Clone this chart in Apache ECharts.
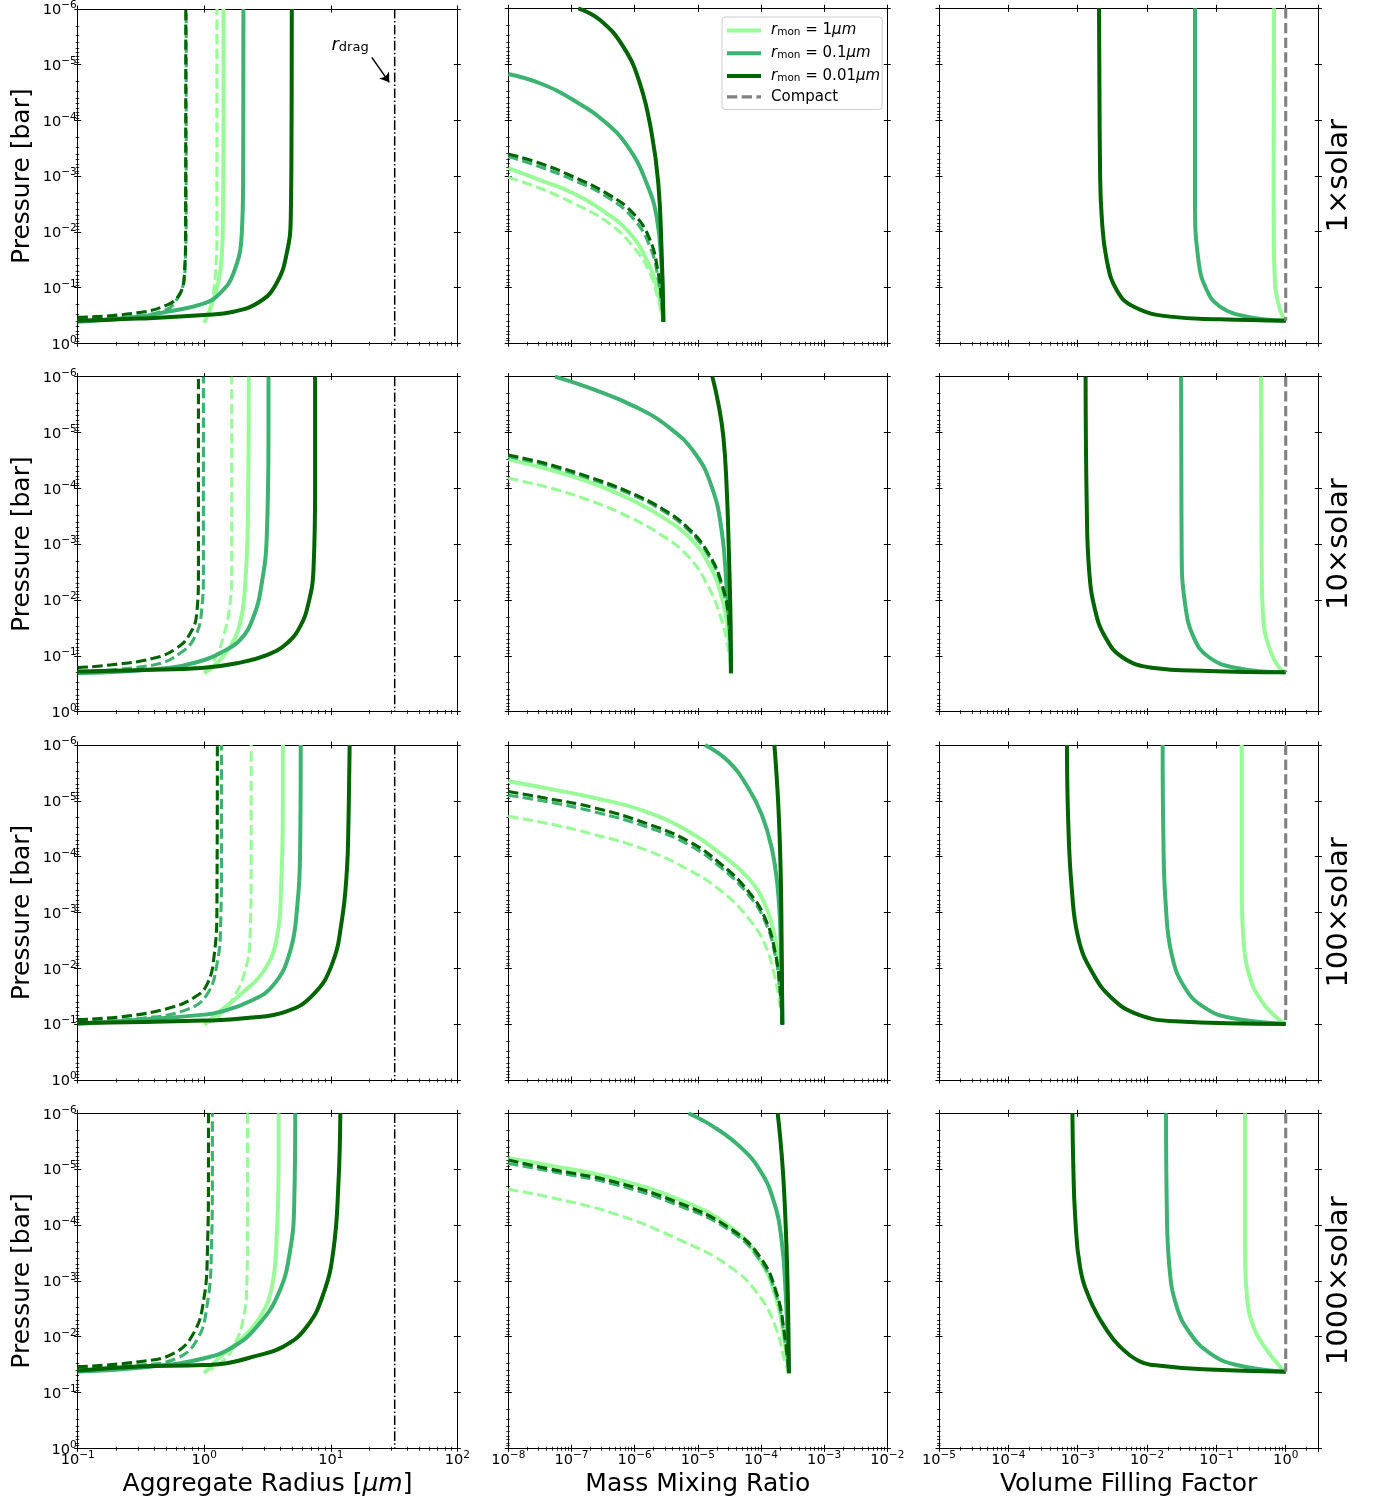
<!DOCTYPE html>
<html>
<head>
<meta charset="utf-8">
<script src="https://cdn.jsdelivr.net/npm/echarts@6/dist/echarts.min.js"></script>
<style>html,body{margin:0;padding:0;background:#fff;}#chart{width:1382px;height:1506px;}</style>
</head>
<body>
<div id="chart"></div>
<script>
// ---------------- labels ----------------
const rowNames = ['1×solar', '10×solar', '100×solar', '1000×solar'];
const xNames = ['{n|Aggregate Radius [}{i|μm}{n|]}', '{n|Mass Mixing Ratio}', '{n|Volume Filling Factor}'];
const yName = 'Pressure [bar]';
const legendNames = ['r1', 'r01', 'r001', 'compact'];
const legendLabels = {
  r1: '{i|r}{sub|mon}{n| = 1}{i|μm}',
  r01: '{i|r}{sub|mon}{n| = 0.1}{i|μm}',
  r001: '{i|r}{sub|mon}{n| = 0.01}{i|μm}',
  compact: '{n|Compact}'
};
// axis ranges
const radiusRange = [0.1, 100];
const mmrRange = [1e-8, 1e-2];
const vffRange = [1e-5, 2.95];
const pressureRange = [1e-6, 1];

// r_drag marker
const rdragLine = [[32, 1e-6], [32, 1]];
const rdragArrow = [[21.1, 7.4e-6], [29.0, 2.07e-5]];
const rdragLabelAt = [14.2, 4.4e-6];

// ---------------- 1x solar ----------------
const rad_s1_r1 = [[1.0,0.43],[1.18,0.168],[1.33,0.056],[1.40,0.0107],[1.42,1e-4],[1.42,1e-6]];
const rad_s1_r01 = [[0.1,0.41],[0.3,0.335],[0.505,0.272],[1.0,0.192],[1.33,0.127],[1.70,0.056],[1.98,0.0107],[2.03,1e-3],[2.04,1e-6]];
const rad_s1_r001 = [[0.1,0.394],[0.3,0.36],[1.0,0.311],[1.7,0.272],[2.76,0.178],[3.74,0.083],[4.49,0.0241],[4.83,0.0054],[4.9,1e-4],[4.92,1e-6]];
const rad_s1_c1 = [[1.0,0.42],[1.15,0.17],[1.23,0.05],[1.26,0.01],[1.26,1e-6]];
const rad_s1_c01 = [[0.1,0.375],[0.28,0.33],[0.5,0.25],[0.6,0.17],[0.68,0.09],[0.71,0.03],[0.72,0.005],[0.72,1e-6]];
const rad_s1_c001 = [[0.1,0.343],[0.275,0.29],[0.505,0.206],[0.644,0.127],[0.697,0.056],[0.712,0.01],[0.715,1e-6]];

const mmr_s1_r1 = [[1e-8,7.3e-4],[3.17e-8,1.19e-3],[1.07e-7,2.06e-3],[3.6e-7,4.7e-3],[8.4e-7,0.0107],[1.55e-6,0.032],[2.23e-6,0.0966],[2.85e-6,0.41]];
const mmr_s1_r01 = [[1e-8,1.5e-5],[3.17e-8,2.2e-5],[1.07e-7,4.4e-5],[3.6e-7,1.15e-4],[8.4e-7,3.4e-4],[1.55e-6,1.36e-3],[2.23e-6,5.4e-3],[2.67e-6,0.0424],[2.85e-6,0.41]];
const mmr_s1_r001 = [[1.28e-7,1e-6],[2.83e-7,1.62e-6],[6.6e-7,4.86e-6],[1.21e-6,2.2e-5],[1.86e-6,1.73e-4],[2.37e-6,1.36e-3],[2.67e-6,0.0213],[2.85e-6,0.41]];
const mmr_s1_c1 = [[1e-8,1.06e-3],[3.17e-8,1.67e-3],[1.07e-7,3.1e-3],[3.6e-7,6.6e-3],[9.5e-7,0.0186],[1.75e-6,0.0557],[2.37e-6,0.167],[2.85e-6,0.41]];
const mmr_s1_c01 = [[1e-8,4.5e-4],[3.17e-8,6.9e-4],[1.07e-7,1.19e-3],[3.6e-7,2.36e-3],[9.5e-7,5.8e-3],[1.75e-6,0.0186],[2.37e-6,0.073],[2.85e-6,0.41]];
const mmr_s1_c001 = [[1e-8,4.06e-4],[3.17e-8,5.97e-4],[1.07e-7,1.04e-3],[3.6e-7,2.06e-3],[9.5e-7,4.7e-3],[1.75e-6,0.014],[2.37e-6,0.0557],[2.67e-6,0.167],[2.85e-6,0.41]];

const vff_s1_r1 = [[0.68,1e-6],[0.67,1e-3],[0.672,0.0107],[0.702,0.084],[0.83,0.253],[1,0.393]];
const vff_s1_r01 = [[0.0492,1e-6],[0.0492,2.7e-3],[0.055,0.032],[0.0726,0.111],[0.113,0.22],[0.274,0.333],[1,0.393]];
const vff_s1_r001 = [[2.03e-3,1e-6],[2.1e-3,6.9e-4],[2.22e-3,5.4e-3],[2.62e-3,0.032],[3.65e-3,0.111],[6.35e-3,0.22],[0.0215,0.333],[0.113,0.372],[1,0.393]];
const vff_s1_compact = [[1,1e-6],[1,0.393]];

// ---------------- 10x solar ----------------
const rad_s10_r1 = [[1.0,0.206],[1.26,0.136],[1.60,0.069],[1.92,0.026],[2.10,0.0058],[2.21,3.7e-4],[2.25,1e-6]];
const rad_s10_r01 = [[0.1,0.206],[0.537,0.163],[1.0,0.119],[1.33,0.09],[1.92,0.052],[2.45,0.02],[2.85,0.005],[3.12,7.3e-4],[3.22,1e-5],[3.22,1e-6]];
const rad_s10_r001 = [[0.1,0.192],[0.33,0.18],[1.0,0.163],[1.81,0.136],[3.12,0.097],[4.49,0.060],[5.72,0.030],[6.66,0.0115],[7.3,0.0029],[7.52,1e-4],[7.52,1e-6]];
const rad_s10_c1 = [[1.0,0.2],[1.2,0.12],[1.42,0.045],[1.6,0.0115],[1.65,0.003],[1.65,1e-6]];
const rad_s10_c01 = [[0.1,0.192],[0.396,0.146],[0.644,0.09],[0.847,0.045],[0.955,0.015],[0.985,0.003],[0.985,1e-6]];
const rad_s10_c001 = [[0.1,0.163],[0.18,0.146],[0.396,0.111],[0.605,0.073],[0.773,0.04],[0.873,0.0173],[0.90,0.003],[0.90,1e-6]];

const mmr_s10_r1 = [[1e-8,3.03e-5],[3.8e-8,4.4e-5],[1.85e-7,7.6e-5],[7.9e-7,1.51e-4],[2.67e-6,3.21e-4],[7.1e-6,7.3e-4],[1.47e-5,2.2e-3],[2.38e-5,8.7e-3],[3.1e-5,0.0454],[3.35e-5,0.206]];
const mmr_s10_r01 = [[5.48e-8,1e-6],[2.35e-7,1.73e-6],[1.01e-6,3.44e-6],[3.41e-6,7.9e-6],[9.0e-6,2.36e-5],[1.66e-5,9.3e-5],[2.38e-5,5.6e-4],[2.86e-5,5.8e-3],[3.23e-5,0.0454],[3.35e-5,0.206]];
const mmr_s10_r001 = [[1.7e-5,1e-6],[2.11e-5,3.0e-6],[2.54e-5,1.19e-5],[2.86e-5,9.3e-5],[3.11e-5,1.46e-3],[3.3e-5,0.0228],[3.35e-5,0.206]];
const mmr_s10_c1 = [[1e-8,6.6e-5],[3.8e-8,9.3e-5],[1.85e-7,1.62e-4],[7.9e-7,3.2e-4],[2.67e-6,6.9e-4],[7.1e-6,1.67e-3],[1.47e-5,5.8e-3],[2.38e-5,0.0228],[3.1e-5,0.09],[3.35e-5,0.206]];
const mmr_s10_c01 = [[1e-8,2.7e-5],[3.8e-8,3.8e-5],[1.85e-7,6.6e-5],[7.9e-7,1.22e-4],[2.67e-6,2.45e-4],[7.1e-6,5.6e-4],[1.47e-5,1.6e-3],[2.38e-5,5.5e-3],[3.1e-5,0.025],[3.35e-5,0.206]];
const mmr_s10_c001 = [[1e-8,2.53e-5],[3.8e-8,3.57e-5],[1.85e-7,6.2e-5],[7.9e-7,1.15e-4],[2.67e-6,2.28e-4],[7.1e-6,5.2e-4],[1.47e-5,1.46e-3],[2.38e-5,5e-3],[3.1e-5,0.0228],[3.35e-5,0.206]];

const vff_s10_r1 = [[0.44,1e-6],[0.451,2.9e-3],[0.476,0.0228],[0.594,0.0787],[0.783,0.156],[1,0.198]];
const vff_s10_r01 = [[0.031,1e-6],[0.0316,1.46e-3],[0.0353,0.0115],[0.0466,0.0454],[0.0767,0.104],[0.186,0.163],[1,0.198]];
const vff_s10_r001 = [[1.3e-3,1e-6],[1.35e-3,1.86e-4],[1.46e-3,2.9e-3],[1.78e-3,0.0151],[2.48e-3,0.0454],[4.3e-3,0.104],[0.0117,0.163],[0.0767,0.187],[1,0.198]];
const vff_s10_compact = [[1,1e-6],[1,0.198]];

// ---------------- 100x solar ----------------
const rad_s100_r1 = [[1.0,0.102],[1.33,0.059],[1.92,0.0297],[2.94,0.0113],[3.74,0.0029],[4.05,3.6e-4],[4.18,1e-5],[4.18,1e-6]];
const rad_s100_r01 = [[0.1,0.099],[0.33,0.083],[1.0,0.0676],[1.33,0.0605],[2.30,0.039],[3.52,0.02],[4.77,0.005],[5.45,7.2e-4],[5.72,9.1e-5],[5.79,1e-6]];
const rad_s100_r001 = [[0.1,0.0955],[1.0,0.0865],[2.17,0.078],[4.49,0.059],[7.3,0.0294],[10.2,0.0086],[12.2,0.00145],[13.4,1.8e-4],[13.8,2.3e-5],[14.1,1e-6]];
const rad_s100_c1 = [[1.0,0.1],[1.33,0.068],[1.70,0.034],[2.10,0.0113],[2.30,0.0029],[2.35,1e-4],[2.35,1e-6]];
const rad_s100_c01 = [[0.1,0.091],[0.33,0.078],[0.728,0.055],[1.05,0.0295],[1.26,0.0085],[1.35,0.00145],[1.37,1e-4],[1.37,1e-6]];
const rad_s100_c001 = [[0.1,0.083],[0.244,0.072],[0.537,0.051],[0.82,0.034],[1.05,0.0196],[1.2,0.0057],[1.26,7.2e-4],[1.27,1e-6]];

const mmr_s100_r1 = [[1e-8,4.48e-6],[3.8e-8,5.9e-6],[2.35e-7,8.9e-6],[1.46e-6,1.54e-5],[7.1e-6,3.52e-5],[2.38e-5,9.2e-5],[6.3e-5,2.41e-4],[1.16e-4,7.2e-4],[1.67e-4,2.86e-3],[2.0e-4,0.0113],[2.18e-4,0.102]];
const mmr_s100_r01 = [[1.3e-5,1e-6],[3.04e-5,1.96e-6],[6.3e-5,5.9e-6],[1.03e-4,1.77e-5],[1.48e-4,7.0e-5],[1.84e-4,3.64e-4],[2.05e-4,2.86e-3],[2.18e-4,0.102]];
const mmr_s100_r001 = [[1.63e-4,1e-6],[1.88e-4,1.17e-5],[2.05e-4,1.83e-4],[2.12e-4,2.86e-3],[2.18e-4,0.102]];
const mmr_s100_c1 = [[1e-8,1.9e-5],[3.8e-8,2.49e-5],[2.35e-7,4.04e-5],[1.46e-6,7.5e-5],[7.1e-6,1.71e-4],[2.38e-5,4.18e-4],[6.3e-5,1.26e-3],[1.16e-4,3.77e-3],[1.67e-4,0.0149],[2.0e-4,0.0448],[2.18e-4,0.102]];
const mmr_s100_c01 = [[1e-8,7.96e-6],[3.8e-8,1.02e-5],[2.35e-7,1.58e-5],[1.46e-6,2.86e-5],[7.1e-6,6.1e-5],[2.38e-5,1.6e-4],[6.3e-5,4.8e-4],[1.16e-4,1.44e-3],[1.67e-4,5.7e-3],[2.0e-4,0.0258],[2.18e-4,0.102]];
const mmr_s100_c001 = [[1e-8,6.8e-6],[3.8e-8,8.9e-6],[2.35e-7,1.34e-5],[1.46e-6,2.49e-5],[7.1e-6,5.3e-5],[2.38e-5,1.39e-4],[6.3e-5,4.18e-4],[1.16e-4,1.26e-3],[1.67e-4,5e-3],[2.0e-4,0.0225],[2.18e-4,0.102]];

const vff_s100_r1 = [[0.232,1e-6],[0.232,3.6e-4],[0.245,2.86e-3],[0.306,0.0149],[0.451,0.039],[0.702,0.0724],[1,0.0993]];
const vff_s100_r01 = [[0.0168,1e-6],[0.0172,4.6e-5],[0.0186,7.2e-4],[0.0227,5.7e-3],[0.0353,0.0225],[0.0687,0.0513],[0.166,0.0777],[1,0.0993]];
const vff_s100_r001 = [[7.0e-4,1e-6],[7.3e-4,2.33e-5],[8.2e-4,3.64e-4],[1.02e-3,2.86e-3],[1.59e-3,0.0113],[3.09e-3,0.034],[7.5e-3,0.0676],[0.0254,0.0889],[1,0.0993]];
const vff_s100_compact = [[1,1e-6],[1,0.0993]];

// ---------------- 1000x solar ----------------
const rad_s1000_r1 = [[1.0,0.0454],[1.34,0.0228],[1.93,0.0115],[2.77,0.0044],[3.43,0.00127],[3.75,1.4e-4],[3.87,1e-5],[3.87,1e-6]];
const rad_s1000_r01 = [[0.1,0.042],[0.374,0.0345],[1.0,0.0244],[1.71,0.015],[2.61,0.0066],[3.87,0.00168],[4.78,2.8e-4],[5.15,3.5e-5],[5.24,1e-6]];
const rad_s1000_r001 = [[0.1,0.0406],[0.276,0.0345],[1.0,0.0323],[1.51,0.030],[2.45,0.0228],[4.24,0.015],[6.48,0.0066],[8.77,0.00168],[10.5,2.8e-4],[11.5,1.8e-5],[11.9,1e-6]];
const rad_s1000_c1 = [[1.0,0.042],[1.34,0.03],[1.71,0.015],[2.05,0.0044],[2.17,0.0011],[2.2,1e-4],[2.2,1e-6]];
const rad_s1000_c01 = [[0.1,0.037],[0.312,0.0323],[0.608,0.0244],[0.875,0.0115],[1.05,0.0029],[1.14,2.8e-4],[1.16,1e-5],[1.16,1e-6]];
const rad_s1000_c001 = [[0.1,0.0345],[0.312,0.028],[0.573,0.02],[0.824,0.0087],[0.99,0.0022],[1.06,2.8e-4],[1.08,1e-5],[1.08,1e-6]];

const mmr_s1000_r1 = [[1e-8,6.4e-6],[4.05e-8,8.4e-6],[4.6e-7,1.46e-5],[5.2e-6,3.56e-5],[3.23e-5,1.07e-4],[9.6e-5,4.24e-4],[1.77e-4,2.2e-3],[2.26e-4,8.7e-3],[2.77e-4,0.0454]];
const mmr_s1000_r01 = [[7.1e-6,1e-6],[1.76e-5,1.73e-6],[4.65e-5,3.95e-6],[9.6e-5,1.04e-5],[1.57e-4,3.56e-5],[2.12e-4,1.86e-4],[2.49e-4,2.2e-3],[2.77e-4,0.0454]];
const mmr_s1000_r001 = [[1.84e-4,1e-6],[2.2e-4,9.0e-6],[2.49e-4,1.41e-4],[2.67e-4,2.2e-3],[2.77e-4,0.0454]];
const mmr_s1000_c1 = [[1e-8,2.3e-5],[4.05e-8,3.11e-5],[4.6e-7,6.2e-5],[5.2e-6,1.86e-4],[3.23e-5,5.6e-4],[9.6e-5,1.92e-3],[1.77e-4,7.6e-3],[2.35e-4,0.0262],[2.77e-4,0.0454]];
const mmr_s1000_c01 = [[1e-8,7.9e-6],[4.05e-8,1.06e-5],[4.6e-7,1.85e-5],[5.2e-6,4.57e-5],[3.23e-5,1.26e-4],[9.6e-5,4.24e-4],[1.77e-4,1.92e-3],[2.35e-4,0.01],[2.77e-4,0.0454]];
const mmr_s1000_c001 = [[1e-8,6.86e-6],[4.05e-8,9.7e-6],[4.6e-7,1.67e-5],[5.2e-6,4.09e-5],[3.23e-5,1.15e-4],[9.6e-5,3.69e-4],[1.77e-4,1.67e-3],[2.35e-4,8.7e-3],[2.77e-4,0.0454]];

const vff_s1000_r1 = [[0.259,1e-6],[0.259,2.8e-4],[0.274,1.68e-3],[0.341,6.6e-3],[0.532,0.0173],[0.828,0.0344],[1,0.0424]];
const vff_s1000_r01 = [[0.0188,1e-6],[0.0192,3.56e-5],[0.021,5.6e-4],[0.0268,2.9e-3],[0.0417,8.7e-3],[0.081,0.0199],[0.196,0.0322],[1,0.0424]];
const vff_s1000_r001 = [[8.4e-4,1e-6],[8.65e-4,9.0e-6],[9.2e-4,7.1e-5],[1.08e-3,5.6e-4],[1.51e-3,2.2e-3],[2.62e-3,7.6e-3],[4.08e-3,0.0151],[7.93e-3,0.028],[0.0123,0.0322],[0.0649,0.0385],[1,0.0424]];
const vff_s1000_compact = [[1,1e-6],[1,0.0424]];

// ---------------- assembly ----------------
const radPanels = [
  [rad_s1_r1, rad_s1_c1, rad_s1_r01, rad_s1_c01, rad_s1_r001, rad_s1_c001],
  [rad_s10_r1, rad_s10_c1, rad_s10_r01, rad_s10_c01, rad_s10_r001, rad_s10_c001],
  [rad_s100_r1, rad_s100_c1, rad_s100_r01, rad_s100_c01, rad_s100_r001, rad_s100_c001],
  [rad_s1000_r1, rad_s1000_c1, rad_s1000_r01, rad_s1000_c01, rad_s1000_r001, rad_s1000_c001]
];
const mmrPanels = [
  [mmr_s1_r1, mmr_s1_c1, mmr_s1_r01, mmr_s1_c01, mmr_s1_r001, mmr_s1_c001],
  [mmr_s10_r1, mmr_s10_c1, mmr_s10_r01, mmr_s10_c01, mmr_s10_r001, mmr_s10_c001],
  [mmr_s100_r1, mmr_s100_c1, mmr_s100_r01, mmr_s100_c01, mmr_s100_r001, mmr_s100_c001],
  [mmr_s1000_r1, mmr_s1000_c1, mmr_s1000_r01, mmr_s1000_c01, mmr_s1000_r001, mmr_s1000_c001]
];
const vffPanels = [
  [vff_s1_r1, vff_s1_r01, vff_s1_r001, vff_s1_compact],
  [vff_s10_r1, vff_s10_r01, vff_s10_r001, vff_s10_compact],
  [vff_s100_r1, vff_s100_r01, vff_s100_r001, vff_s100_compact],
  [vff_s1000_r1, vff_s1000_r01, vff_s1000_r001, vff_s1000_compact]
];

const FONT = 'DejaVu Sans';
const LIGHT = '#98FB98', MED = '#3CB371', DARK = '#006400', GREY = '#808080';
const curveStyles = [
  {name: 'r1', color: LIGHT, dashed: false},
  {name: 'r1c', color: LIGHT, dashed: true},
  {name: 'r01', color: MED, dashed: false},
  {name: 'r01c', color: MED, dashed: true},
  {name: 'r001', color: DARK, dashed: false},
  {name: 'r001c', color: DARK, dashed: true}
];
const vffStyles = [
  {name: 'r1', color: LIGHT, dashed: false},
  {name: 'r01', color: MED, dashed: false},
  {name: 'r001', color: DARK, dashed: false},
  {name: 'compact', color: GREY, dashed: true}
];

const colLeft = [77.7, 508.3, 939];
const colWidth = [379.6, 379, 379.3];
const rowTop0 = 8.3, rowStep = 368.33, rowHeight = 335;
const xRanges = [radiusRange, mmrRange, vffRange];

function pow10Label(v) {
  const lg = Math.log10(v);
  const e = Math.round(lg);
  if (Math.abs(lg - e) > 1e-6) return '';
  return '{b|10}{s|' + (e < 0 ? '\u2212' + (-e) : String(e)) + '}';
}
const tickRich = {
  b: {fontSize: 14.6, lineHeight: 18, verticalAlign: 'bottom', color: '#000', fontFamily: FONT},
  s: {fontSize: 10.5, lineHeight: 10, verticalAlign: 'top', color: '#000', fontFamily: FONT}
};

const grids = [], xAxes = [], yAxes = [], series = [];
const axisLine = {show: true, onZero: false, lineStyle: {color: '#000', width: 1}};

for (let r = 0; r < 4; r++) {
  for (let c = 0; c < 3; c++) {
    const g = r * 3 + c;
    grids.push({left: colLeft[c], top: rowTop0 + r * rowStep, width: colWidth[c], height: rowHeight, containLabel: false});
    const xr = xRanges[c];
    const xb = {type: 'log', logBase: 10, gridIndex: g, min: xr[0], max: xr[1], splitLine: {show: false}, minorSplitLine: {show: false}, axisLine: axisLine, axisLabel: {show: false}};
    xAxes.push(Object.assign({}, xb, {
      position: 'bottom',
      axisTick: {show: true, inside: false, length: 3.5, lineStyle: {color: '#000', width: 1}},
      minorTick: {show: true, splitNumber: 9, length: 2.5, lineStyle: {color: '#000', width: 0.8}},
      axisLabel: {show: r === 3, formatter: pow10Label, margin: 1, rich: tickRich},
      name: r === 3 ? xNames[c] : '',
      nameLocation: 'middle', nameGap: 24,
      nameTextStyle: {color: '#000', rich: {n: {fontSize: 25, fontFamily: FONT, color: '#000'}, i: {fontSize: 25, fontFamily: FONT, fontStyle: 'italic', color: '#000'}}}
    }));
    xAxes.push(Object.assign({}, xb, {position: 'bottom', axisTick: {show: true, inside: true, length: 3.5, lineStyle: {color: '#000', width: 1}}, minorTick: {show: true, splitNumber: 9, length: 1.5, lineStyle: {color: '#000', width: 0.8}}}));
    xAxes.push(Object.assign({}, xb, {position: 'top', axisTick: {show: true, inside: false, length: 3.5, lineStyle: {color: '#000', width: 1}}}));
    xAxes.push(Object.assign({}, xb, {position: 'top', axisTick: {show: true, inside: true, length: 3.5, lineStyle: {color: '#000', width: 1}}}));

    const yb = {type: 'log', logBase: 10, gridIndex: g, inverse: true, min: pressureRange[0], max: pressureRange[1], splitLine: {show: false}, minorSplitLine: {show: false}, axisLine: axisLine, axisLabel: {show: false}};
    yAxes.push(Object.assign({}, yb, {
      position: 'left',
      axisTick: {show: true, inside: false, length: 3.5, lineStyle: {color: '#000', width: 1}},
      minorTick: {show: true, splitNumber: 9, length: 2, lineStyle: {color: '#000', width: 0.8}},
      axisLabel: {show: c === 0, formatter: pow10Label, margin: 1, rich: tickRich},
      name: c === 0 ? yName : '', nameLocation: 'middle', nameGap: 43,
      nameTextStyle: {fontSize: 25, fontFamily: FONT, color: '#000'}
    }));
    yAxes.push(Object.assign({}, yb, {position: 'left', axisTick: {show: true, inside: true, length: 3.5, lineStyle: {color: '#000', width: 1}}, minorTick: {show: true, splitNumber: 9, length: 1.5, lineStyle: {color: '#000', width: 0.8}}}));
    yAxes.push(Object.assign({}, yb, {
      position: 'right', axisTick: {show: true, inside: false, length: 3.5, lineStyle: {color: '#000', width: 1}},
      name: c === 2 ? rowNames[r] : '', nameLocation: 'middle', nameRotate: 90, nameGap: 7,
      nameTextStyle: {fontSize: 29, fontFamily: FONT, color: '#000'}
    }));
    yAxes.push(Object.assign({}, yb, {position: 'right', axisTick: {show: true, inside: true, length: 3.5, lineStyle: {color: '#000', width: 1}}}));

    const styles = c === 2 ? vffStyles : curveStyles;
    const sets = c === 0 ? radPanels[r] : (c === 1 ? mmrPanels[r] : vffPanels[r]);
    sets.forEach((data, k) => {
      const st = styles[k];
      series.push({
        type: 'line', name: st.name, data: data,
        xAxisIndex: 4 * g, yAxisIndex: 4 * g,
        symbol: 'none', showSymbol: false, smooth: 0.45, clip: true, animation: false, silent: true,
        lineStyle: {color: st.color, width: st.dashed ? 3.1 : 4, type: st.dashed ? [10.3, 4.4] : 'solid', cap: 'butt'},
        itemStyle: {color: st.color}
      });
    });
    if (c === 0) {
      const s = {
        type: 'line', name: 'rdrag', data: rdragLine,
        xAxisIndex: 4 * g, yAxisIndex: 4 * g, symbol: 'none', animation: false, silent: true,
        lineStyle: {color: '#000', width: 1.5, type: [9.6, 2.4, 1.5, 2.4]}, itemStyle: {color: '#000'}
      };
      if (r === 0) {
        s.markLine = {
          silent: true, animation: false, symbol: ['none', 'arrow'], symbolSize: 9,
          label: {show: false}, lineStyle: {color: '#000', width: 1.5, type: 'solid'},
          data: [[{coord: rdragArrow[0]}, {coord: rdragArrow[1]}]]
        };
        s.markPoint = {
          silent: true, animation: false,
          data: [{coord: rdragLabelAt, symbol: 'circle', symbolSize: 1, itemStyle: {color: 'rgba(0,0,0,0)'},
            label: {show: true, position: 'inside', formatter: '{i|r}{sub|drag}',
              rich: {
                i: {fontSize: 18, fontStyle: 'italic', fontFamily: FONT, color: '#000', lineHeight: 18, verticalAlign: 'top'},
                sub: {fontSize: 13, fontFamily: FONT, color: '#000', lineHeight: 13, padding: [8, 0, 0, 0], verticalAlign: 'bottom'}
              }}}]
        };
      }
      series.push(s);
    }
  }
}

const option = {
  backgroundColor: '#fff',
  animation: false,
  textStyle: {fontFamily: FONT},
  grid: grids, xAxis: xAxes, yAxis: yAxes, series: series,
  legend: {
    show: true, data: legendNames, orient: 'vertical', left: 722, top: 17,
    padding: [4, 2, 5, 3], itemGap: 5.8, itemWidth: 34, itemHeight: 14,
    backgroundColor: 'rgba(255,255,255,0.85)', borderColor: '#cccccc', borderWidth: 1, borderRadius: 3,
    selectedMode: false, itemStyle: {opacity: 0},
    lineStyle: {width: 'inherit', type: 'inherit'},
    formatter: n => legendLabels[n],
    textStyle: {
      color: '#000', fontSize: 15, padding: [0, 0, 0, 5],
      rich: {
        i: {fontSize: 15, fontStyle: 'italic', fontFamily: FONT, color: '#000', lineHeight: 15, verticalAlign: 'top'},
        n: {fontSize: 15, fontFamily: FONT, color: '#000', lineHeight: 15, verticalAlign: 'top'},
        sub: {fontSize: 10.5, fontFamily: FONT, color: '#000', lineHeight: 10.5, padding: [6, 0, 0, 0], verticalAlign: 'bottom'}
      }
    }
  }
};

const chart = echarts.init(document.getElementById('chart'), null, {renderer: 'canvas'});
chart.setOption(option);
</script>
</body>
</html>
